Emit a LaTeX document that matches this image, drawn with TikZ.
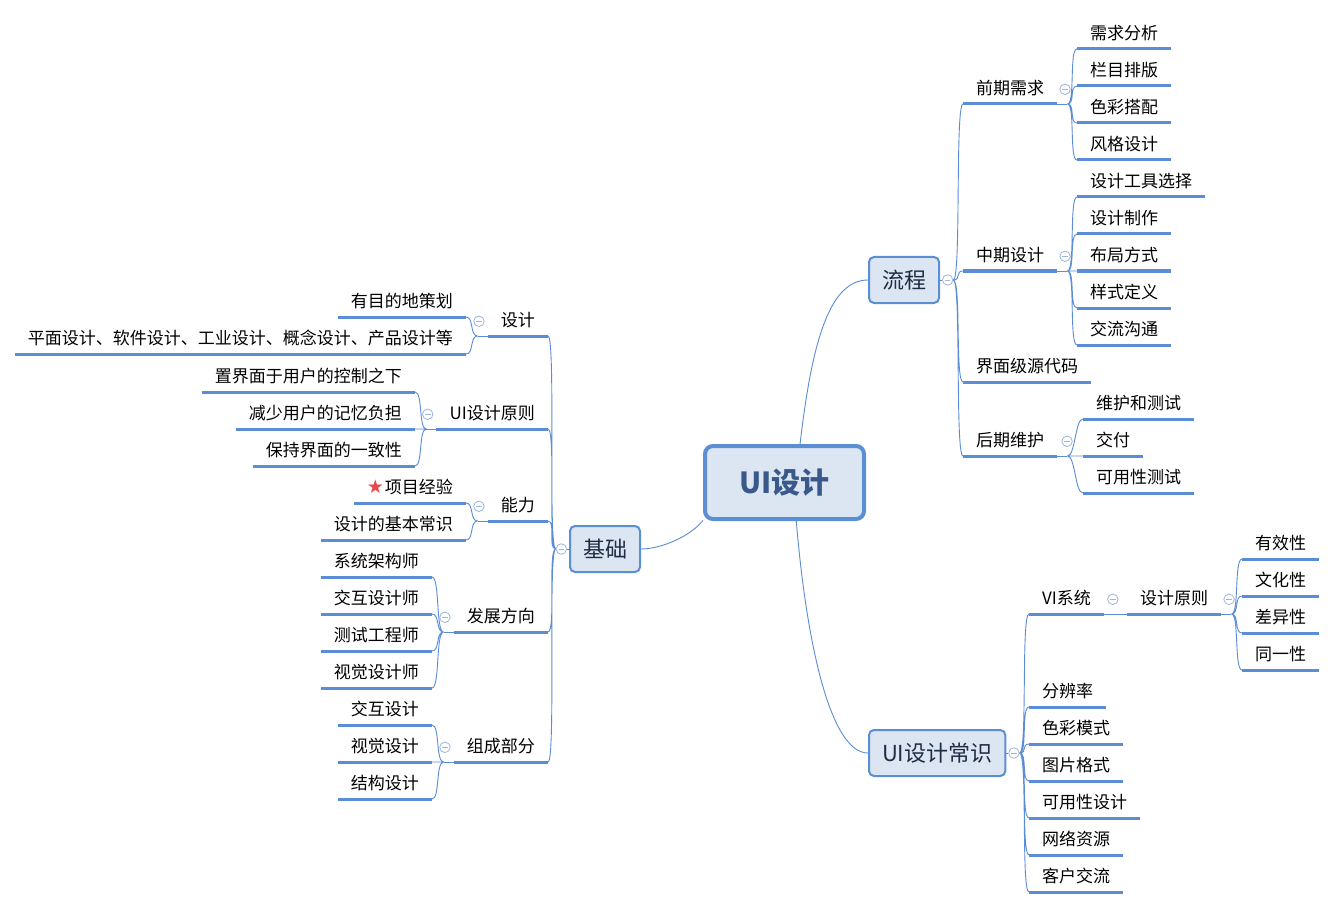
\documentclass[tikz,border=0pt]{standalone}
\usepackage{fontspec}
\setmainfont{Noto Sans CJK SC}
\newfontfamily\symfont{DejaVu Sans}
\usetikzlibrary{positioning}
\definecolor{LineBlue}{HTML}{5A8DD6}
\definecolor{BoxBlue}{HTML}{5B8FD4}
\definecolor{BoxFill}{HTML}{DCE6F2}
\definecolor{FoldBlue}{HTML}{9CB6E0}
\definecolor{MainText}{HTML}{1E2C44}
\definecolor{RootText}{HTML}{38598A}
\definecolor{StarRed}{HTML}{E8474B}

\begin{document}
\begin{tikzpicture}[x=1pt,y=-1pt,
    every node/.style={font=\fontsize{17pt}{20pt}\selectfont},
    root/.style={draw=BoxBlue,fill=BoxFill,line width=4pt,rounded corners=8pt,minimum width=159pt,minimum height=73pt,text=RootText,font=\fontsize{29pt}{34pt}\selectfont\bfseries},
    main/.style={draw=BoxBlue,fill=BoxFill,line width=2pt,rounded corners=5pt,inner xsep=13pt,minimum height=46pt,text=MainText,font=\fontsize{22pt}{26pt}\selectfont},
    uline/.style={draw=LineBlue,line width=3pt},
    topic/.style={text=black,inner xsep=13pt,inner ysep=5.5pt,text height=14pt,text depth=4pt,
      append after command={(\tikzlastnode.south west) edge[uline] (\tikzlastnode.south east)}},
    tR/.style={topic,anchor=south west},
    tL/.style={topic,anchor=south east},
    fold/.style={circle,draw=FoldBlue,fill=white,line width=0.8pt,minimum size=10.5pt,inner sep=0pt,
      path picture={\draw[FoldBlue,line width=0.8pt] ([xshift=-2.8pt]path picture bounding box.center) -- ([xshift=2.8pt]path picture bounding box.center);}},
    link/.style={draw=LineBlue,line width=0.9pt},
    brR/.style={to path={(\tikztostart) .. controls +(8,0) and +(-8,0) .. (\tikztotarget)}},
    brL/.style={to path={(\tikztostart) .. controls +(-8,0) and +(8,0) .. (\tikztotarget)}}
  ]
  \path[use as bounding box,fill=white] (0,0) rectangle (1335,909);

  % centre and main topics
  \node[root] (root) at (784.5,482.5) {UI设计};
  \node[main,anchor=west] (liucheng) at (868,280) {流程};
  \node[main,anchor=west] (jichu) at (569,549) {基础};
  \node[main,anchor=west] (changshi) at (868,753) {UI设计常识};
  \node[fold,right=2pt of liucheng] (liuchengF) {};
  \node[fold,left=2pt of jichu] (jichuF) {};
  \node[fold,right=2pt of changshi] (changshiF) {};

  \draw[link] (root.68) .. controls +(12,-104) and +(-38,0) .. (liucheng.west);
  \draw[link] (root.205) .. controls +(-13,16) and +(20,0) .. (jichu.east);
  \draw[link] (root.287) .. controls +(10,120) and +(-38,0) .. (changshi.west);

  % 流程
  \node[tR] (qianqi) at (963,104) {前期需求};
  \node[tR] (zhongqi) at (963,271) {中期设计};
  \node[tR] (yuandaima) at (963,382) {界面级源代码};
  \node[tR] (houqi) at (963,456) {后期维护};
  \node[fold,right=2pt of qianqi] (qianqiF) {};
  \node[fold,right=2pt of zhongqi] (zhongqiF) {};
  \node[fold,right=4pt of houqi] (houqiF) {};

  \node[tR] (xuqiu) at (1077,49) {需求分析};
  \node[tR] (lanmu) at (1077,86) {栏目排版};
  \node[tR] (secai) at (1077,123) {色彩搭配};
  \node[tR] (fengge) at (1077,160) {风格设计};

  \node[tR] (gongju) at (1077,197) {设计工具选择};
  \node[tR] (zhizuo) at (1077,234) {设计制作};
  \node[tR] (buju) at (1077,271) {布局方式};
  \node[tR] (yangshi) at (1077,308) {样式定义};
  \node[tR] (goutong) at (1077,345) {交流沟通};

  \node[tR] (ceshi) at (1083,419) {维护和测试};
  \node[tR] (jiaofu) at (1083,456) {交付};
  \node[tR] (kyceshi) at (1083,493) {可用性测试};

  \draw[link] (liucheng.east) -- (liuchengF.west);
  \draw[link] (liuchengF.east) to[brR] (qianqi.south west)
    (liuchengF.east) to[brR] (zhongqi.south west)
    (liuchengF.east) to[brR] (yuandaima.south west)
    (liuchengF.east) to[brR] (houqi.south west);
  \draw[link] (qianqi.south east) -- ++(10,0) coordinate (qianqiB);
  \draw[link] (qianqiB) to[brR] (xuqiu.south west) (qianqiB) to[brR] (lanmu.south west)
    (qianqiB) to[brR] (secai.south west) (qianqiB) to[brR] (fengge.south west);
  \draw[link] (zhongqi.south east) -- ++(10,0) coordinate (zhongqiB);
  \draw[link] (zhongqiB) to[brR] (gongju.south west) (zhongqiB) to[brR] (zhizuo.south west)
    (zhongqiB) to[brR] (buju.south west) (zhongqiB) to[brR] (yangshi.south west)
    (zhongqiB) to[brR] (goutong.south west);
  \draw[link] (houqi.south east) -- ++(10,0) coordinate (houqiB);
  \draw[link] (houqiB) to[brR] (ceshi.south west) (houqiB) to[brR] (jiaofu.south west)
    (houqiB) to[brR] (kyceshi.south west);

  % UI设计常识
  \node[tR] (vi) at (1029,614) {VI系统};
  \node[tR] (fenbian) at (1029,707) {分辨率};
  \node[tR] (semoshi) at (1029,744) {色彩模式};
  \node[tR] (geshi) at (1029,781) {图片格式};
  \node[tR] (kysheji) at (1029,818) {可用性设计};
  \node[tR] (ziyuan) at (1029,855) {网络资源};
  \node[tR] (kehu) at (1029,892) {客户交流};
  \node[fold,right=3pt of vi] (viF) {};
  \node[tR] (yuanze) at (1127,614) {设计原则};
  \node[fold,right=2pt of yuanze] (yuanzeF) {};
  \node[tR] (youxiao) at (1242,559) {有效性};
  \node[tR] (wenhua) at (1242,596) {文化性};
  \node[tR] (chayi) at (1242,633) {差异性};
  \node[tR] (tongyi) at (1242,670) {同一性};

  \draw[link] (changshi.east) -- (changshiF.west);
  \draw[link] (changshiF.east) to[brR] (vi.south west)
    (changshiF.east) to[brR] (fenbian.south west)
    (changshiF.east) to[brR] (semoshi.south west)
    (changshiF.east) to[brR] (geshi.south west)
    (changshiF.east) to[brR] (kysheji.south west)
    (changshiF.east) to[brR] (ziyuan.south west)
    (changshiF.east) to[brR] (kehu.south west);
  \draw[link] (vi.south east) -- (yuanze.south west);
  \draw[link] (yuanze.south east) -- ++(10,0) coordinate (yuanzeB);
  \draw[link] (yuanzeB) to[brR] (youxiao.south west) (yuanzeB) to[brR] (wenhua.south west)
    (yuanzeB) to[brR] (chayi.south west) (yuanzeB) to[brR] (tongyi.south west);

  % 基础
  \node[tL] (sheji) at (548,336) {设计};
  \node[tL] (yuanzeL) at (548,429) {UI设计原则};
  \node[tL] (nengli) at (548,521) {能力};
  \node[tL] (fazhan) at (548,632) {发展方向};
  \node[tL] (zucheng) at (548,762) {组成部分};
  \node[fold,left=3pt of sheji] (shejiF) {};
  \node[fold,left=3pt of yuanzeL] (yuanzeLF) {};
  \node[fold,left=3pt of nengli] (nengliF) {};
  \node[fold,left=3pt of fazhan] (fazhanF) {};
  \node[fold,left=3pt of zucheng] (zuchengF) {};

  \node[tL] (cehua) at (466,317) {有目的地策划};
  \node[tL] (lingyu) at (466,354) {平面设计、软件设计、工业设计、概念设计、产品设计等};

  \node[tL] (kongzhi) at (415,392) {置界面于用户的控制之下};
  \node[tL] (jiyi) at (415,429) {减少用户的记忆负担};
  \node[tL] (yizhi) at (415,466) {保持界面的一致性};

  \node[tL] (jingyan) at (466,503) {{\symfont\fontsize{19pt}{20pt}\selectfont\color{StarRed}★}\hspace{1pt}项目经验};
  \node[tL] (changshiL) at (466,540) {设计的基本常识};

  \node[tL] (jiagou) at (432,577) {系统架构师};
  \node[tL] (jiaohu) at (432,614) {交互设计师};
  \node[tL] (gongcheng) at (432,651) {测试工程师};
  \node[tL] (shijue) at (432,688) {视觉设计师};

  \node[tL] (jhsheji) at (432,725) {交互设计};
  \node[tL] (sjsheji) at (432,762) {视觉设计};
  \node[tL] (jgsheji) at (432,799) {结构设计};

  \draw[link] (jichu.west) -- (jichuF.east);
  \draw[link] (jichuF.west) to[brL] (sheji.south east)
    (jichuF.west) to[brL] (yuanzeL.south east)
    (jichuF.west) to[brL] (nengli.south east)
    (jichuF.west) to[brL] (fazhan.south east)
    (jichuF.west) to[brL] (zucheng.south east);
  \draw[link] (sheji.south west) -- ++(-10,0) coordinate (shejiB);
  \draw[link] (shejiB) to[brL] (cehua.south east) (shejiB) to[brL] (lingyu.south east);
  \draw[link] (yuanzeL.south west) -- ++(-10,0) coordinate (yuanzeLB);
  \draw[link] (yuanzeLB) to[brL] (kongzhi.south east) (yuanzeLB) to[brL] (jiyi.south east)
    (yuanzeLB) to[brL] (yizhi.south east);
  \draw[link] (nengli.south west) -- ++(-10,0) coordinate (nengliB);
  \draw[link] (nengliB) to[brL] (jingyan.south east) (nengliB) to[brL] (changshiL.south east);
  \draw[link] (fazhan.south west) -- ++(-10,0) coordinate (fazhanB);
  \draw[link] (fazhanB) to[brL] (jiagou.south east) (fazhanB) to[brL] (jiaohu.south east)
    (fazhanB) to[brL] (gongcheng.south east) (fazhanB) to[brL] (shijue.south east);
  \draw[link] (zucheng.south west) -- ++(-10,0) coordinate (zuchengB);
  \draw[link] (zuchengB) to[brL] (jhsheji.south east) (zuchengB) to[brL] (sjsheji.south east)
    (zuchengB) to[brL] (jgsheji.south east);
\end{tikzpicture}
\end{document}
